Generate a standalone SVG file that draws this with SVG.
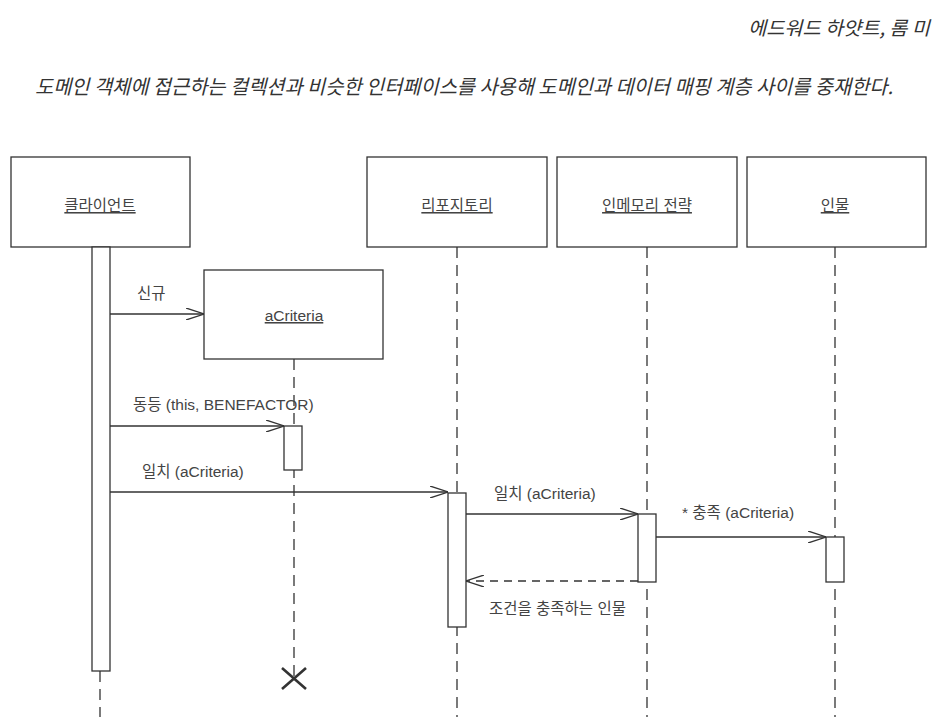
<svg xmlns="http://www.w3.org/2000/svg" width="952" height="726" viewBox="0 0 952 726">
<style>
  .box { fill: #fff; stroke: #333; stroke-width: 1.3; }
  .act { fill: #fff; stroke: #333; stroke-width: 1.3; }
  .life { stroke: #333; stroke-width: 1.3; stroke-dasharray: 11 7; fill: none; }
  .msg { stroke: #333; stroke-width: 1.3; fill: none; }
  .ret { stroke: #333; stroke-width: 1.3; fill: none; stroke-dasharray: 8 6; }
  .lbl { font-family: "Liberation Sans", "Noto Sans CJK KR", sans-serif; font-size: 15.5px; fill: #444; }
  .name { font-family: "Liberation Sans", "Noto Sans CJK KR", sans-serif; font-size: 15.5px; fill: #444; text-anchor: middle; text-decoration: underline; }
  .hdr { font-family: "Noto Sans CJK KR", sans-serif; font-style: italic; fill: #333; }
</style>
<defs>
  <marker id="open" viewBox="0 0 18 12" refX="18" refY="6" markerWidth="18" markerHeight="12" markerUnits="userSpaceOnUse" orient="auto">
    <path d="M0,0 L18,6 L0,12" fill="none" stroke="#333" stroke-width="1.3"/>
  </marker>
</defs>
<rect width="952" height="726" fill="#fff"/>
<g id="header">
  <text class="hdr" x="930" y="35" font-size="19" text-anchor="end" textLength="182" lengthAdjust="spacingAndGlyphs">에드워드 하얏트, 롬 미</text>
  <text class="hdr" x="35" y="94" font-size="20" textLength="858" lengthAdjust="spacingAndGlyphs">도메인 객체에 접근하는 컬렉션과 비슷한 인터페이스를 사용해 도메인과 데이터 매핑 계층 사이를 중재한다.</text>
</g>
<g id="lifelines">
  <line class="life" x1="100" y1="671" x2="100" y2="717"/>
  <line class="life" x1="294" y1="359" x2="294" y2="676"/>
  <line class="life" x1="457" y1="247" x2="457" y2="717"/>
  <line class="life" x1="647" y1="247" x2="647" y2="717"/>
  <line class="life" x1="835" y1="247" x2="835" y2="717"/>
</g>
<g id="client">
  <rect class="box" x="11" y="157" width="179" height="90"/>
  <text class="name" x="100" y="211">클라이언트</text>
  <rect class="act" x="92" y="247" width="18" height="424"/>
</g>
<g id="aCriteria">
  <rect class="box" x="204" y="270" width="179" height="89"/>
  <text class="name" x="294" y="321">aCriteria</text>
  <rect class="act" x="284" y="426" width="18" height="44"/>
  <path d="M282,668 L306,689 M306,668 L282,689" stroke="#333" stroke-width="2.6" fill="none"/>
</g>
<g id="repository">
  <rect class="box" x="367" y="157" width="180" height="90"/>
  <text class="name" x="457" y="211">리포지토리</text>
  <rect class="act" x="448" y="493" width="18" height="134"/>
</g>
<g id="inmemory">
  <rect class="box" x="557" y="157" width="180" height="90"/>
  <text class="name" x="647" y="211">인메모리 전략</text>
  <rect class="act" x="638" y="514" width="18" height="68"/>
</g>
<g id="person">
  <rect class="box" x="747" y="157" width="179" height="90"/>
  <text class="name" x="835" y="211">인물</text>
  <rect class="act" x="826" y="537" width="18" height="45"/>
</g>
<g id="connectors">
  <line class="msg" x1="110" y1="314" x2="204" y2="314" marker-end="url(#open)"/>
  <text class="lbl" x="137" y="299">신규</text>
  <line class="msg" x1="110" y1="426" x2="284" y2="426" marker-end="url(#open)"/>
  <text class="lbl" x="133" y="410">동등 (this, BENEFACTOR)</text>
  <line class="msg" x1="110" y1="492" x2="448" y2="492" marker-end="url(#open)"/>
  <text class="lbl" x="142" y="477">일치 (aCriteria)</text>
  <line class="msg" x1="466" y1="514" x2="638" y2="514" marker-end="url(#open)"/>
  <text class="lbl" x="494" y="499">일치 (aCriteria)</text>
  <line class="msg" x1="656" y1="537" x2="826" y2="537" marker-end="url(#open)"/>
  <text class="lbl" x="682" y="518">* 충족 (aCriteria)</text>
  <line class="ret" x1="638" y1="581" x2="466" y2="581" marker-end="url(#open)"/>
  <text class="lbl" x="489" y="614">조건을 충족하는 인물</text>
</g>
</svg>
